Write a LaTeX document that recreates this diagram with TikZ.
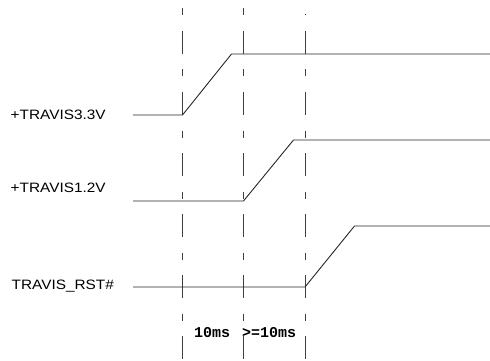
\documentclass[tikz,border=0pt]{standalone}
\usepackage{fontspec}
\setmainfont{Liberation Sans}
\setmonofont{Liberation Mono}
\begin{document}
\begin{tikzpicture}[x=1pt,y=-1pt,
  sig/.style={draw=black!85, line width=0.9pt, line join=miter},
  guide/.style={draw=black!75, line width=0.8pt, dash pattern=on 7pt off 15.5pt on 23pt off 15.5pt},
  lbl/.style={anchor=base west, inner sep=0pt, font=\fontsize{13.6}{13.6}\selectfont},
  tm/.style={anchor=base west, inner sep=0pt, font=\fontsize{15}{15}\selectfont\ttfamily\bfseries}]
\useasboundingbox (0,0) rectangle (490,361);
% guide lines
\coordinate (g1t) at (182.5,8.5); \coordinate (g1b) at (182.5,361);
\coordinate (g2t) at (243.5,8.5); \coordinate (g2b) at (243.5,361);
\coordinate (g3t) at (305,14.5);  \coordinate (g3b) at (305,361);
\draw[guide] (g1t) -- (g1b);
\draw[guide] (g2t) -- (g2b);
\draw[guide, dash phase=6pt] (g3t) -- (g3b);
% labels
\node[lbl] (l1) at (10.5,119.5) {\scalebox{1.13}[1]{+TRAVIS3.3V}};
\node[lbl] (l2) at (10.5,192.5) {\scalebox{1.13}[1]{+TRAVIS1.2V}};
\node[lbl] (l3) at (11.5,289.5) {\scalebox{1.13}[1]{TRAVIS\_RST\#}};
% waveforms
\coordinate (a0) at (133,115); \coordinate (a1) at (182.5,115);
\coordinate (a2) at (231.5,54); \coordinate (a3) at (490,54);
\draw[sig] (a0) -- (a1) -- (a2) -- (a3);
\coordinate (b0) at (133,201); \coordinate (b1) at (243.5,201);
\coordinate (b2) at (293.5,140); \coordinate (b3) at (490,140);
\draw[sig] (b0) -- (b1) -- (b2) -- (b3);
\coordinate (c0) at (133,287); \coordinate (c1) at (305,287);
\coordinate (c2) at (354.5,226); \coordinate (c3) at (490,226);
\draw[sig] (c0) -- (c1) -- (c2) -- (c3);
% timing labels
\node[tm] (t1) at (194,337) {10ms};
\node[tm] (t2) at (242,337) {>=10ms};
\end{tikzpicture}
\end{document}
